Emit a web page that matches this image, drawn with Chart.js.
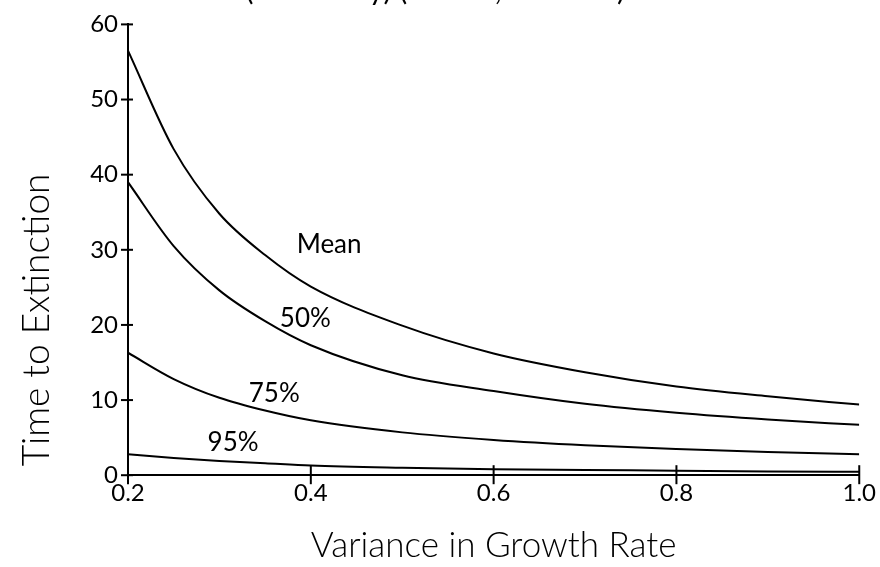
<!DOCTYPE html>
<html>
<head>
<meta charset="utf-8">
<script src="https://cdn.jsdelivr.net/npm/chart.js@4.4.1/dist/chart.umd.min.js"></script>
<style>
  html, body { margin: 0; padding: 0; background: #fff; }
  #wrap { width: 880px; height: 567px; }
</style>
</head>
<body>
<div id="wrap"><canvas id="extinctionChart" width="880" height="567"></canvas></div>
<script>
// values
const variance = [0.2, 0.25, 0.3, 0.35, 0.4, 0.5, 0.6, 0.7, 0.8, 0.9, 1.0];
const meanTime = [56.5, 43.4, 34.8, 29.3, 25.1, 19.9, 16.2, 13.7, 11.8, 10.5, 9.4];
const pct50Time = [39.0, 30.5, 24.6, 20.5, 17.3, 13.3, 11.2, 9.5, 8.3, 7.4, 6.7];
const pct75Time = [16.3, 12.8, 10.3, 8.6, 7.3, 5.7, 4.7, 4.0, 3.5, 3.1, 2.8];
const pct95Time = [2.8, 2.3, 1.9, 1.6, 1.3, 1.0, 0.8, 0.7, 0.6, 0.5, 0.45];
const xTicks = [0.2, 0.4, 0.6, 0.8, 1.0];
const yTicks = [0, 10, 20, 30, 40, 50, 60];

// curve labels, anchored in data coordinates
const curveLabels = [
  { text: "Mean", x: 0.42, y: 30.7 },
  { text: "50%", x: 0.394, y: 20.8 },
  { text: "75%", x: 0.36, y: 10.8 },
  { text: "95%", x: 0.315, y: 4.4 },
];

const FONT = "Lato, 'DejaVu Sans', sans-serif";

const toPoints = (ys) => variance.map((v, i) => ({ x: v, y: ys[i] }));

const lineStyle = {
  borderColor: "#000",
  borderWidth: 2,
  pointRadius: 0,
  fill: false,
  cubicInterpolationMode: "monotone",
};

// labels, cut-off title, y title, and ticks that cross the axes
const annotatePlugin = {
  id: "annotate",
  afterDraw(chart) {
    const { ctx, chartArea, scales } = chart;
    const xs = scales.x;
    const ys = scales.y;
    ctx.save();
    ctx.strokeStyle = "#000";
    ctx.lineWidth = 2;

    xTicks.forEach((t) => {
      const px = xs.getPixelForValue(t);
      ctx.beginPath();
      ctx.moveTo(px, chartArea.bottom - 10);
      ctx.lineTo(px, chartArea.bottom + 9);
      ctx.stroke();
    });
    yTicks.forEach((t) => {
      const py = ys.getPixelForValue(t);
      ctx.beginPath();
      ctx.moveTo(chartArea.left - 7, py);
      ctx.lineTo(chartArea.left + 5, py);
      ctx.stroke();
    });

    ctx.fillStyle = "#000";
    ctx.textAlign = "center";
    ctx.textBaseline = "middle";
    ctx.font = "26px " + FONT;
    curveLabels.forEach((l) => {
      ctx.fillText(l.text, xs.getPixelForValue(l.x), ys.getPixelForValue(l.y));
    });

    // title sits mostly above the page edge, as in the scan
    ctx.font = "30px " + FONT;
    ctx.textAlign = "right";
    ctx.textBaseline = "alphabetic";
    ctx.fillText("(Variability) (K = 50, N = 452)", 625, 0);

    // y axis title
    ctx.translate(37, 320);
    ctx.rotate(-Math.PI / 2);
    ctx.textAlign = "center";
    ctx.textBaseline = "middle";
    ctx.font = "300 37px " + FONT;
    ctx.fillText("Time to Extinction", 0, 0);
    ctx.restore();
  },
};

new Chart(document.getElementById("extinctionChart").getContext("2d"), {
  type: "line",
  data: {
    datasets: [
      { label: "Mean", data: toPoints(meanTime), ...lineStyle },
      { label: "50%", data: toPoints(pct50Time), ...lineStyle },
      { label: "75%", data: toPoints(pct75Time), ...lineStyle },
      { label: "95%", data: toPoints(pct95Time), ...lineStyle },
    ],
  },
  options: {
    responsive: false,
    animation: false,
    layout: { padding: { top: 23, right: 15, left: 0, bottom: 0 } },
    plugins: {
      legend: { display: false },
      tooltip: { enabled: false },
    },
    scales: {
      x: {
        type: "linear",
        min: 0.2,
        max: 1.0,
        afterBuildTicks: (scale) => {
          scale.ticks = xTicks.map((v) => ({ value: v }));
        },
        grid: { display: false, drawTicks: false },
        border: { display: true, color: "#000", width: 2 },
        ticks: {
          color: "#000",
          padding: 4,
          font: { family: FONT, size: 24 },
          callback: (v) => v.toFixed(1),
        },
        title: {
          display: true,
          text: "Variance in Growth Rate",
          color: "#000",
          padding: { top: 13, bottom: 0 },
          font: { family: FONT, size: 35, weight: 300 },
        },
      },
      y: {
        min: 0,
        max: 60,
        afterBuildTicks: (scale) => {
          scale.ticks = yTicks.map((v) => ({ value: v }));
        },
        afterFit: (scale) => {
          scale.width = 128;
        },
        grid: { display: false, drawTicks: false },
        border: { display: true, color: "#000", width: 2 },
        ticks: {
          color: "#000",
          padding: 10,
          font: { family: FONT, size: 24 },
        },
      },
    },
  },
  plugins: [annotatePlugin],
});
</script>
</body>
</html>
